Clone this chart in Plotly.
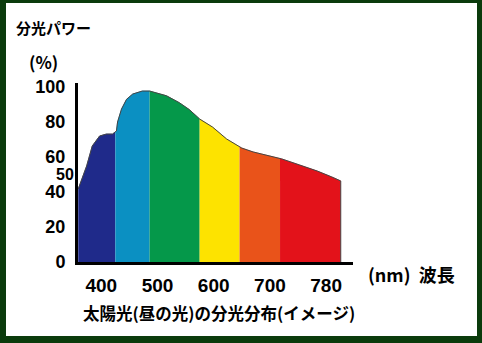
import numpy as np
import plotly.graph_objects as go

# ---- data ----
wavelength = [359, 374, 384, 397, 409, 420, 427, 429, 436, 445, 456, 473, 486, 500, 516,
              539, 557, 575, 598, 623, 650, 670, 694, 721, 753, 784, 810, 826]
power = [41.7, 54.9, 66.3, 72.0, 73.1, 73.1, 74.9, 80.0, 87.4, 93.0, 96.0, 97.7, 97.7, 96.5, 95.0,
         91.0, 87.0, 81.7, 77.1, 70.3, 65.1, 62.9, 61.1, 58.9, 55.4, 52.0, 48.6, 46.3]

band_edges = [359, 425, 486, 575, 646, 718, 826]
band_colors = ["#1f2a8a", "#0b90c2", "#05984a", "#fde300", "#e9531a", "#e3121a"]

x_tick_pos = [400, 500, 600, 700, 800]
x_tick_text = ["400", "500", "600", "700", "780"]
y_ticks = [0, 20, 40, 60, 80, 100]
y_small_ticks = [50]

title_y = "分光パワー"
unit_y = "(%)"
label_x = "(nm)  波長"
caption = "太陽光(昼の光)の分光分布(イメージ)"

# ---- layout geometry (pixels) ----
W, H = 482, 343
L, R, T, B = 78, 353, 83, 262
FONT = "Noto Sans CJK JP"
NUMFONT = "Liberation Sans"

def px(x):
    return (x - L) / (R - L)

def py(y):
    return (B - y) / (B - T)

fig = go.Figure()

wl = np.array(wavelength, dtype=float)
pw = np.array(power, dtype=float)
for i, col in enumerate(band_colors):
    lo, hi = band_edges[i], band_edges[i + 1]
    inside = (wl > lo) & (wl < hi)
    xs = np.concatenate([[lo], wl[inside], [hi]])
    ys = np.interp(xs, wl, pw)
    fig.add_trace(go.Scatter(x=xs, y=ys, mode="lines", fill="tozeroy",
                             fillcolor=col, line=dict(width=0.6, color=col),
                             hoverinfo="skip", showlegend=False))

# outline
fig.add_trace(go.Scatter(x=list(wl) + [wl[-1]], y=list(pw) + [0], mode="lines",
                         line=dict(color="#444444", width=1),
                         hoverinfo="skip", showlegend=False))

fig.update_xaxes(range=[358.6, 847.8], showgrid=False, zeroline=False,
                 showline=True, linecolor="black", linewidth=3,
                 tickvals=x_tick_pos, ticktext=x_tick_text, ticks="",
                 ticklabelstandoff=4,
                 tickfont=dict(family=NUMFONT, size=19, color="black", weight="bold"))
fig.update_yaxes(range=[0, 102.3], showgrid=False, zeroline=False,
                 showline=True, linecolor="black", linewidth=3,
                 tickvals=y_ticks, ticks="", ticklabelstandoff=6,
                 tickfont=dict(family=NUMFONT, size=18, color="black", weight="bold"))

shapes = [dict(type="rect", xref="paper", yref="paper", layer="below",
               x0=px(6), x1=px(477), y0=py(336), y1=py(3),
               fillcolor="white", line=dict(width=0))]

def ann(text, x, y, size=17):
    return dict(text=text, xref="paper", yref="paper", x=px(x), y=py(y),
                xanchor="left", yanchor="middle", showarrow=False,
                font=dict(family=FONT, size=size, color="black", weight="bold"))

annotations = [
    ann(title_y, 14, 28, 15),
    ann(unit_y, 27, 61, 17),
    ann(label_x, 366, 274, 18),
    ann(caption, 81, 313, 16.5),
]
for v in y_small_ticks:
    annotations.append(dict(text=str(v), xref="paper", yref="y", x=px(75.5), y=v,
                            xanchor="right", yanchor="middle", showarrow=False,
                            font=dict(family=NUMFONT, size=16, color="black", weight="bold")))

fig.update_layout(width=W, height=H,
                  margin=dict(l=L, r=W - R, t=T, b=H - B, pad=0),
                  paper_bgcolor="#0b3b0c", plot_bgcolor="rgba(0,0,0,0)",
                  shapes=shapes, annotations=annotations)

fig.write_html("out.html")
